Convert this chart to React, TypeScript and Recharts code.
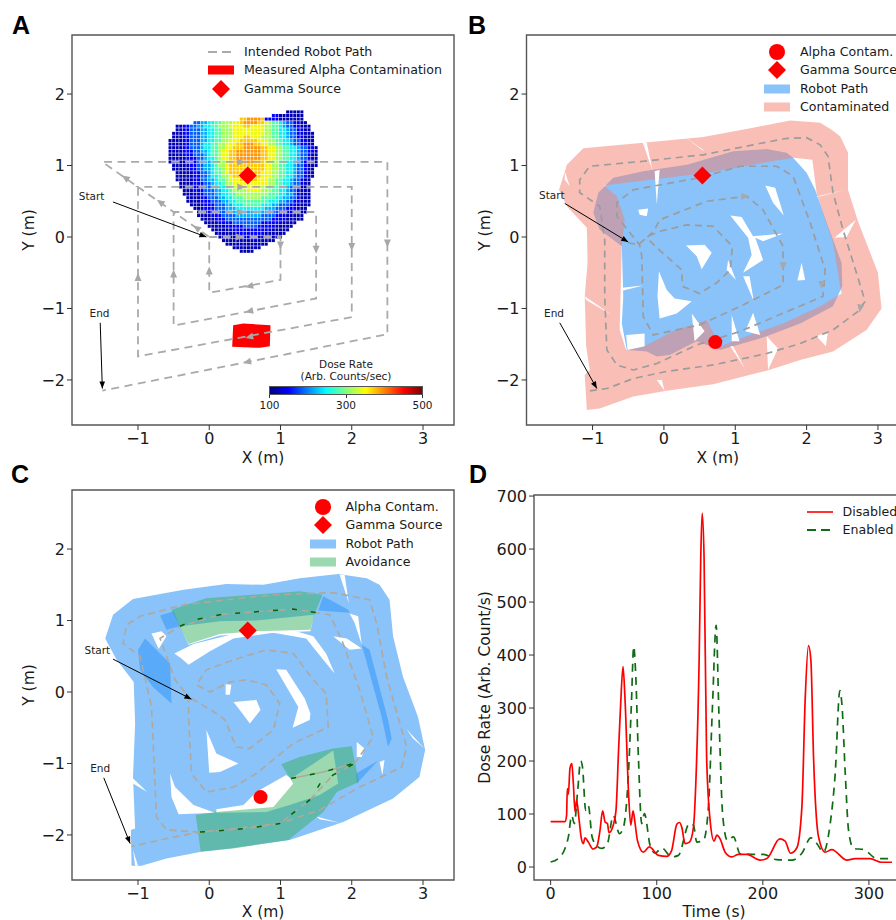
import React from "react";
import {
  ComposedChart,
  Line,
  ReferenceArea,
  ReferenceDot,
  Scatter,
  ScatterChart,
  XAxis,
  YAxis,
} from "recharts";

type Pt = number[];

const FONT = '"DejaVu Sans", sans-serif';
const xTicks = [-1, 0, 1, 2, 3];
const yTicks = [-2, -1, 0, 1, 2];
const xDomain = [-1.926, 3.435];
const yDomain = [-2.63, 2.826];
const timeTicks = [0, 100, 200, 300];
const doseTicks = [0, 100, 200, 300, 400, 500, 600, 700];

const BLUE = "#8ac2fa";
const gamma = [[0.54, 0.86]];
const alpha = [[0.72, -1.47]];

// panel A: intended path and its arrows [x, y, heading]
const intendedPath: Pt[] = [
  [0, 0], [1, 0], [1, -0.6], [0, -0.78], [0, 0], [-0.5, 0.35], [1.5, 0.35], [1.5, -0.86], [-0.5, -1.24], [-0.5, 0.35],
  [-1, 0.7], [2, 0.7], [2, -1.12], [-1, -1.67], [-1, 0.7], [-1.5, 1.05], [2.5, 1.05], [2.5, -1.36], [-1.5, -2.15],
];
const intendedArrows: Pt[] = [
  [0.45, 1.05, 0], [0.45, 0.7, 0], [0.45, 0.35, 0], [0.43, 0, 0],
  [-1.18, 0.83, 215], [-0.69, 0.49, 215], [-0.18, 0.13, 215],
  [1, -0.12, 90], [1.5, -0.18, 90], [2, -0.14, 90], [2.5, -0.09, 90],
  [0, -0.47, -90], [-0.5, -0.51, -90], [-1, -0.56, -90],
  [0.56, -0.69, 167], [0.56, -1.04, 167], [0.56, -1.4, 167], [0.53, -1.75, 167],
];
const alphaPatch: Pt[] = [[0.336, -1.234], [0.477, -1.21], [0.86, -1.234], [0.85, -1.528], [0.71, -1.551], [0.322, -1.537]];

// panel A heat map: dose level per grid cell, one row per y step
const heatX0 = -0.55;
const heatY0 = 1.75;
const heatStep = 0.05;
const heatStarts = [33, 29, 20, 7, 2, 2, 1, 1, 0, 0, 0, 0, 0, 0, 0, 1, 1, 2, 2, 2, 3, 3, 4, 4, 5, 5, 6, 7, 8, 8, 9, 10, 11, 12, 13, 14, 15, 16, 18, 20];
const heatRows = [
  "00000",
  "110000000",
  "889999811110000000",
  "22334455666778999988765543221100",
  "00112233445566677778877776655432211000",
  "00112223344556667777777776655443221100",
  "0001122233445566677777777766554432211000",
  "0001122233445566677788777666554432211000",
  "00001122233445566777888887776655443221100",
  "00001122234455667778899988776655443221100",
  "000011222344556677888999998877665544322110",
  "000011122334556778899999998877665544322110",
  "000011122234556778899999998877665544322100",
  "000001112234456778899999998877665544322100",
  "000001112233456678899999888776655443221000",
  "00000112233456678888888888776655443221000",
  "0000011223345567888888888877665544322100",
  "000001122345567888888888777665544322100",
  "000001122344566788888888777665544322100",
  "00000112233455677788888777665544322100",
  "0000111223445667777777777665544322100",
  "0000111223344566777777766555443221000",
  "000111222334456666777766655443221000",
  "000011222334455666666666555443321000",
  "00001122233445556666655554433221000",
  "00001112223344555555555444332211000",
  "0000111222334445555544433222110000",
  "00011122233344444444333222111000",
  "0001112223333333333322211110000",
  "000011122223333333222211100000",
  "00001112222222222222111100000",
  "00001111222222221111110000",
  "000001111122221111100000",
  "0000011111111111100000",
  "00000011111111000000",
  "000000011110000000",
  "000000000000000",
  "000000000000",
  "00000000",
  "0000",
];
const doseColors = ["#0000b4", "#0000ff", "#0060ff", "#00b0ff", "#10f0f0", "#50ffa8", "#a0ff58", "#f0f808", "#ffc800", "#ff9400"];

// panel B
const pinkOuter: Pt[] = [
  [-1.08, -2.42], [-0.9, -2.4], [-0.43, -2.23], [0.04, -2.15], [0.69, -2.06], [1.44, -1.87], [1.91, -1.72], [2.37, -1.6],
  [2.84, -1.3], [3.05, -1], [3, -0.5], [2.72, 0.22], [2.58, 0.66], [2.58, 1.18], [2.47, 1.41], [2.35, 1.5], [2.19, 1.6],
  [1.77, 1.63], [1.25, 1.53], [0.55, 1.4], [-0.29, 1.32], [-1.13, 1.24], [-1.36, 1.01], [-1.47, 0.66], [-1.36, 0.43],
  [-1.08, 0.13], [-1.07, -0.36], [-1.11, -0.83], [-1.09, -1.53], [-1.04, -1.86], [-1.11, -1.93], [-1.08, -2.42],
];
const pinkInner: Pt[] = [
  [-0.53, -1.58], [-0.62, -1.3], [-0.59, -0.13], [-0.55, 0.24], [-0.66, 0.57], [-0.84, 0.72], [0.6, 0.9], [1.81, 1.11],
  [2.08, 1.08], [2.14, 0.62], [2.26, 0.24], [2.37, -0.08], [2.47, -0.69], [2.49, -0.79], [2.19, -0.97], [1.67, -1.21],
  [1.16, -1.39], [0.79, -1.53], [0.6, -1.16], [0.39, -1.23], [0.13, -1.32], [-0.24, -1.51], [-0.53, -1.58],
];
const blueB: Pt[] = [
  [-0.52, -1.58], [-0.24, -1.6], [-0.1, -1.67], [0.08, -1.65], [0.46, -1.46], [0.79, -1.58], [1.44, -1.39], [1.91, -1.21],
  [2.37, -0.97], [2.5, -0.69], [2.49, -0.36], [2.3, 0.15], [2.12, 0.66], [2, 0.9], [1.81, 1.11], [1.72, 1.18], [1.44, 1.23],
  [0.97, 1.2], [0.32, 1.01], [-0.29, 0.92], [-0.71, 0.83], [-0.92, 0.62], [-0.99, 0.34], [-0.9, 0.1], [-0.59, -0.13],
  [-0.57, -0.83], [-0.59, -1.21],
];
const gapsB: Pt[][] = [
  [[-0.36, 0.38], [-0.22, 0.4], [-0.24, 0.29], [-0.34, 0.31]],
  [[1.42, 0.72], [1.56, 0.69], [1.68, 0.3], [1.53, 0.48]],
  [[0.93, 0.3], [1.09, 0.28], [1.25, 0.01], [1.67, 0.05], [1.39, -0.06], [1.28, -0.01], [1.39, -0.32], [1.11, -0.5], [1.23, -0.25], [1.18, -0.01]],
  [[0.31, -0.12], [0.57, -0.11], [0.67, -0.22], [0.53, -0.45], [0.46, -0.27]],
  [[-0.07, -0.48], [0.04, -0.74], [0.15, -0.86], [0.39, -0.9], [0.18, -1.07], [-0.06, -1.14], [-0.09, -0.83]],
  [[1.93, -0.36], [1.98, -0.6], [1.87, -0.61]],
  [[0.9, -0.32], [1.01, -0.6], [0.88, -0.46]],
  [[1.11, -0.55], [1.2, -0.55], [1.26, -0.9]],
  [[0.39, -1.07], [0.57, -1.32], [0.43, -1.46]],
  [[0.95, -1.09], [1.06, -1.46], [0.95, -1.46]],
  [[1.14, -1.32], [1.25, -1.06], [1.35, -1.37]],
  [[-0.53, -1.37], [-0.27, -1.35], [-0.27, -1.53], [-0.51, -1.58]],
  [[-0.3, 1.33], [-0.24, 1.32], [-0.16, 0.93]],
  [[-0.13, 0.92], [-0.06, 0.94], [-0.1, 0.45]],
  [[0.29, 1.4], [0.56, 1.2], [0.55, 1.22]],
  [[2.12, 0.55], [2.54, 0.66], [2.2, 0.58]],
  [[2.39, -0.01], [2.69, 0.24], [2.56, 0]],
  [[-1.11, -0.83], [-0.73, -1.09], [-1.09, -0.88]],
  [[1.44, -1.39], [1.6, -1.56], [1.46, -1.86]],
  [[2.14, -1.39], [2.3, -1.32], [2.27, -1.53]],
  [[0.93, -1.53], [1.14, -1.85], [0.97, -1.53]],
  [[-0.1, -2], [0.01, -2.15], [-0.03, -2]],
  [[-0.59, -0.71], [-0.29, -0.68], [-0.57, -0.75]],
  [[-1.39, 0.92], [-1.32, 0.71], [-1.39, 0.8]],
];
const pathB: Pt[] = [
  [-0.5, -0.08], [-0.36, -0.11], [-0.22, 0.01], [-0.06, 0.08], [0.32, 0.17], [0.69, 0.15], [0.96, -0.13], [0.93, -0.46],
  [0.74, -0.64], [0.5, -0.79], [0.26, -0.69], [0.25, -0.46], [-0.1, -0.15], [-0.24, -0.01], [-0.13, 0.1], [-0.06, 0.24],
  [0.6, 0.5], [1.16, 0.57], [1.39, 0.38], [1.67, -0.13], [1.67, -0.67], [1.07, -0.97], [0.5, -1.23], [-0.15, -1.37],
  [-0.29, -1.11], [-0.31, -0.27], [-0.34, -0.11], [-0.66, 0.29], [-0.66, 0.48], [-0.43, 0.66], [0.5, 0.83], [1.07, 0.99],
  [1.58, 0.99], [1.81, 0.85], [2.05, 0.2], [2.26, -0.46], [2.23, -0.83], [1.07, -1.32], [0.46, -1.51], [-0.1, -1.77],
  [-0.43, -1.86], [-0.66, -1.79], [-0.8, -1.58], [-0.83, -0.83], [-0.83, -0.04], [-0.9, 0.43], [-1.18, 0.62], [-1.18, 0.8],
  [-1.04, 0.99], [-0.29, 1.06], [0.55, 1.15], [1.25, 1.29], [1.72, 1.38], [2, 1.39], [2.19, 1.29], [2.3, 1.13], [2.37, 0.62],
  [2.51, 0.1], [2.72, -0.57], [2.82, -0.9], [2.72, -1.04], [2.37, -1.3], [1.91, -1.49], [1.44, -1.63], [0.69, -1.79],
  [0.04, -1.88], [-0.43, -1.98], [-0.8, -2.12], [-1.09, -2.16],
];
const arrowsB: Pt[] = [[1.14, 0.57, 0], [1.67, -0.41, 90], [2.21, -0.67, 90], [2.75, -1, 100]];

// panel C
const blueC: Pt[] = [
  [-1.09, -2.43], [-0.95, -2.43], [-0.6, -2.33], [-0.13, -2.24], [0.29, -2.19], [1.13, -2.07], [1.88, -1.82], [2.58, -1.49],
  [2.95, -1.19], [3.03, -0.81], [2.93, -0.35], [2.72, 0.21], [2.58, 0.78], [2.53, 1.29], [2.39, 1.5], [2.21, 1.59], [1.81, 1.65],
  [1.27, 1.59], [0.76, 1.5], [0.24, 1.51], [-0.36, 1.43], [-1.07, 1.3], [-1.35, 1.08], [-1.46, 0.75], [-1.3, 0.45], [-1.06, 0.14],
  [-1.04, -0.44], [-1.07, -1.19], [-1.04, -1.91], [-1.1, -1.93],
];
const gapsC: Pt[][] = [
  [[-0.49, 0.54], [-0.22, 0.67], [0.34, 0.81], [1.18, 0.86], [1.46, 0.78], [1.64, 0.54], [1.76, 0.26], [1.6, 0.45], [1.36, 0.75], [0.9, 0.83], [0.34, 0.75], [0.01, 0.57], [-0.29, 0.38], [-0.39, 0.47]],
  [[-0.41, 0.92], [0.15, 0.99], [0.66, 1], [1.47, 1.08], [1.42, 0.85], [0.66, 0.82], [0.15, 0.79], [-0.29, 0.66]],
  [[-0.81, 0.82], [-0.67, 0.85], [-0.6, 0.78], [-0.71, 0.6]],
  [[1.74, 0.78], [1.93, 0.75], [2.14, 0.61], [1.97, 0.59]],
  [[0.34, -0.14], [0.66, -0.11], [0.72, -0.25], [0.57, -0.44], [0.45, -0.28]],
  [[0.23, 0.11], [0.31, 0.1], [0.29, -0.04], [0.23, -0.04]],
  [[0.94, 0.32], [1.08, 0.31], [1.34, -0.09], [1.42, -0.3], [1.41, -0.39], [1.17, -0.5], [1.25, -0.21]],
  [[-0.04, -0.53], [0.1, -0.86], [0.41, -1], [0.15, -1.12], [0, -1.13]],
  [[-0.55, -1.14], [-0.48, -1.33], [-0.22, -1.58], [0.08, -1.69], [-0.43, -1.71], [-0.53, -1.47]],
  [[0.1, -1.64], [0.48, -1.58], [0.66, -1.4], [1.08, -1.16], [1.15, -1.21], [1.74, -0.82], [1.81, -1.28], [1.55, -1.44], [1.13, -1.58], [0.8, -1.68], [0.1, -1.69]],
  [[2.07, -0.7], [2.18, -0.79], [2.14, -0.91], [2.07, -0.91]],
  [[2.39, -0.98], [2.46, -0.95], [2.43, -1.16]],
  [[2.77, -0.52], [3.02, -0.79], [2.86, -0.65]],
  [[1.83, 1.64], [1.9, 1.64], [1.96, 1.24]],
  [[-1.09, -1.19], [-0.87, -1.4], [-1.07, -1.28]],
  [[1.5, -1.74], [1.83, -1.83], [1.55, -1.78]],
  [[-1.07, -2.21], [-1, -2.43], [-1.04, -2.43]],
  [[1.97, 1.1], [2.09, 1.06], [2.14, 0.66], [2.04, 0.97]],
];
const overlapsC: Pt[][] = [
  [[-1, 0.59], [-0.9, 0.75], [-0.55, 0.4], [-0.53, -0.16], [-0.79, 0.07], [-0.97, 0.31]],
  [[-0.69, 1.07], [-0.5, 1.13], [-0.41, 0.92], [-0.6, 0.87]],
  [[1.53, 1.14], [1.6, 1.34], [1.95, 1.15], [1.97, 1.11]],
  [[2.14, 0.66], [2.25, 0.59], [2.51, -0.39], [2.56, -0.65], [2.51, -0.77], [2.42, -0.35]],
  [[2.06, -1.14], [2.37, -0.96], [2.07, -1.28]],
];
const avoidTop: Pt[] = [[-0.53, 1.15], [-0.04, 1.31], [1.27, 1.41], [1.59, 1.36], [1.48, 1.1], [1.42, 0.87], [0.66, 0.85], [0.15, 0.81], [-0.29, 0.67]];
const avoidBottom: Pt[] = [
  [-0.19, -1.72], [0.1, -1.68], [0.9, -1.61], [1.18, -1.28], [1.01, -1.01], [1.27, -0.91], [1.74, -0.79], [2, -0.76], [2.1, -1.26],
  [1.79, -1.4], [1.6, -1.68], [1.11, -2.07], [0.34, -2.19], [-0.12, -2.23],
];
const pathC: Pt[] = [
  [-0.25, -0.09], [0.1, -0.3], [0.22, -0.39], [0.38, -0.77], [0.57, -0.79], [0.9, -0.53], [0.99, -0.16], [0.8, 0.1], [0.52, 0.17],
  [0.29, 0.14], [0.01, 0], [-0.18, 0.1], [-0.04, 0.31], [0.34, 0.45], [0.8, 0.59], [1.18, 0.54], [1.46, 0.17], [1.64, -0.02],
  [1.67, -0.49], [1.18, -0.72], [0.66, -1.14], [0.34, -1.33], [-0.04, -1.4], [-0.25, -1.14], [-0.29, -0.35], [-0.29, -0.07],
  [-0.48, 0.17], [-0.6, 0.5], [-0.69, 0.75], [-0.41, 0.92], [0.2, 1.09], [1.18, 1.16], [1.5, 1.11], [1.69, 1.08], [1.86, 0.73],
  [2.11, 0.03], [2.3, -0.63], [2.04, -1], [1.74, -1.16], [1.41, -1.51], [0.99, -1.84], [0.52, -1.91], [-0.13, -1.96], [-0.6, -1.93],
  [-0.74, -1.75], [-0.81, -0.21], [-0.97, 0.5], [-1.21, 0.68], [-1.16, 0.94], [-0.97, 1.06], [-0.36, 1.22], [0.24, 1.29], [0.9, 1.36],
  [1.74, 1.39], [2.25, 1.29], [2.35, 0.96], [2.49, 0.21], [2.77, -0.77], [2.7, -1.05], [2.11, -1.33], [1.55, -1.65], [0.99, -1.84],
  [-0.13, -1.96], [-0.5, -2.03], [-1.09, -2.16],
];
const branchC: Pt[] = [[1.15, -1.21], [1.6, -1.12], [2.02, -1]];
const avoidPathTop: Pt[] = [[-0.41, 0.92], [-0.2, 1.01], [0.2, 1.09], [1.18, 1.16], [1.5, 1.11]];
const avoidPathBottom: Pt[] = [[-0.13, -1.96], [0.52, -1.91], [0.99, -1.84], [1.41, -1.51], [1.57, -1.26], [1.74, -1.16], [2.04, -1]];

// panel D: [time, dose]
const disabled: Pt[] = [
  [0, 85.6], [13.5, 85.6], [15, 97], [15.7, 148], [16.7, 137], [18.2, 186], [20, 195], [21.4, 157], [23, 104], [24.5, 126], [26.7, 91],
  [29, 53], [30.8, 44], [32.4, 55], [35.5, 47], [40, 34], [43.4, 38], [46.5, 69], [49, 106], [51.3, 85], [53.5, 82], [55, 65], [59, 79],
  [61.6, 107], [64, 220], [66, 308], [68.2, 378], [70, 321], [73.3, 145], [75.5, 79], [77.7, 106], [79.6, 82], [81.8, 50], [87.4, 28],
  [93, 38], [101.6, 22], [109.4, 20], [114, 31], [118.9, 80.5], [121.4, 84], [123.6, 75], [126.7, 44], [130.8, 47], [134.6, 75],
  [136.8, 157], [140, 396], [141.5, 585], [142.8, 668], [144.6, 585], [147, 207], [150.3, 88], [154, 49], [156.6, 60], [159.7, 53],
  [164.5, 28], [170.8, 19], [177, 24], [185, 24], [197.5, 13], [203.8, 16], [216, 53], [221, 49], [226, 26], [232, 36], [236.8, 113],
  [240, 321], [243, 418], [245.3, 390], [247.8, 207], [252.5, 57], [258.8, 28], [265, 33], [279.3, 13], [287, 16], [301, 16], [312, 9], [321.7, 9],
];
const enabled: Pt[] = [
  [0, 9.4], [7.2, 16], [13.5, 35], [16.7, 57], [19.8, 97], [22.3, 82], [25.5, 145], [28.3, 200], [30, 189], [33, 107], [35.5, 116], [39, 57],
  [42, 44], [48, 35], [53.5, 44], [59, 97], [64.8, 63], [68.6, 75], [73.3, 176], [76, 302], [78.3, 416], [80, 371], [82.7, 208], [85.8, 82],
  [88.4, 101], [93.7, 41], [98.4, 26], [104.7, 36], [114, 19], [120.4, 22], [130.8, 82], [134.6, 79], [137.7, 47], [144, 50], [148.7, 113],
  [152.5, 302], [156, 456], [158.5, 296], [162.3, 94], [166.7, 50], [172.3, 57], [178.6, 25], [189.6, 24], [200.6, 24], [213, 14], [227.4, 13],
  [236.8, 26], [245.3, 55], [251, 44], [257, 28], [263.5, 82], [268.2, 176], [272.6, 333], [274.5, 308], [277.7, 176], [280.8, 69], [285.5, 35],
  [295, 33], [307.5, 16], [321.7, 16],
];

const toPts = (list: Pt[]) => list.map(([x, y, angle]) => ({ x, y, angle }));
const heatCells = heatRows.flatMap((row, j) =>
  row.split("").map((level, i) => ({
    x: heatX0 + (heatStarts[j] + i) * heatStep,
    y: heatY0 - j * heatStep,
    color: doseColors[Number(level)],
  })),
);

const noMark = () => <g />;
const heatMark = (p: any) => <rect x={p.cx - 1.5} y={p.cy - 1.5} width={3} height={3} fill={p.payload.color} />;
const diamondMark = (p: any) => (
  <polygon points={`${p.cx - 9},${p.cy} ${p.cx},${p.cy - 9} ${p.cx + 9},${p.cy} ${p.cx},${p.cy + 9}`} fill="#ff0000" />
);
const circleMark = (p: any) => <circle cx={p.cx} cy={p.cy} r={7} fill="#ff0000" />;
const grayHead = (p: any) => (
  <polygon
    points="4,0 -4,-3.5 -4,3.5"
    fill="#a8a8a8"
    transform={`translate(${p.cx},${p.cy}) rotate(${p.payload.angle})`}
  />
);
const blackHead = (p: any) => (
  <polygon
    points="0,0 -7,-2.8 -7,2.8"
    fill="#000"
    transform={`translate(${p.cx},${p.cy}) rotate(${p.payload.angle})`}
  />
);

const area = (key: string, list: Pt[], fill: string, fillOpacity = 1) => (
  <Scatter
    key={key}
    data={toPts(list)}
    shape={noMark}
    line={{ fill, fillOpacity, stroke: "none" }}
    lineJointType="linearClosed"
    isAnimationActive={false}
  />
);
const polyline = (key: string, list: Pt[], stroke: string, width: number, dash?: string) => (
  <Scatter
    key={key}
    data={toPts(list)}
    shape={noMark}
    line={{ stroke, strokeWidth: width, strokeDasharray: dash, fill: "none" }}
    isAnimationActive={false}
  />
);
const marks = (key: string, list: Pt[], shape: any) => (
  <Scatter key={key} data={toPts(list)} shape={shape} isAnimationActive={false} />
);
const note = (key: string, text: string, x: number, y: number) => (
  <ReferenceDot
    key={key}
    x={x}
    y={y}
    r={0}
    stroke="none"
    label={{ value: text, position: "center", fontSize: 10.5, fill: "#222", fontFamily: FONT }}
  />
);
const pointer = (key: string, label: string, tx: number, ty: number, from: Pt, to: Pt, angle: number) => [
  note(`${key}-t`, label, tx, ty),
  polyline(`${key}-l`, [from, to], "#000", 1),
  marks(`${key}-h`, [[to[0], to[1], angle]], blackHead),
];

const minus = (v: number) => String(v).replace("-", "\u2212");
const tickStyle = { fontSize: 16, fill: "#1a1a1a", fontFamily: FONT };
const labelStyle = { fontSize: 15.5, fill: "#1a1a1a", fontFamily: FONT };

const axes = (
  xLabel: string,
  yLabel: string,
  xd: number[],
  yd: number[],
  xt: number[],
  yt: number[],
  yw: number,
  xLabelOffset = 7,
  xLabelDx = 0,
) => [
  <XAxis
    key="x"
    type="number"
    dataKey="x"
    domain={xd}
    ticks={xt}
    allowDataOverflow
    height={45}
    interval={0}
    tickSize={5}
    tickMargin={3}
    tickFormatter={minus}
    tick={tickStyle}
    stroke="#333"
    axisLine={false}
    label={{ value: xLabel, position: "insideBottom", offset: xLabelOffset, dx: xLabelDx, ...labelStyle }}
  />,
  <YAxis
    key="y"
    type="number"
    dataKey="y"
    domain={yd}
    ticks={yt}
    allowDataOverflow
    width={yw}
    interval={0}
    tickSize={5}
    tickMargin={2}
    tickFormatter={minus}
    tick={tickStyle}
    stroke="#333"
    axisLine={false}
    label={{ value: yLabel, angle: -90, position: "insideLeft", offset: 28, ...labelStyle, style: { textAnchor: "middle" } }}
  />,
];
const frame = (xd: number[], yd: number[]) => (
  <ReferenceArea key="frame" x1={xd[0]} x2={xd[1]} y1={yd[0]} y2={yd[1]} fill="none" fillOpacity={0} stroke="#555" strokeWidth={1.4} ifOverflow="visible" />
);

function Swatch({ kind, color }: { kind: string; color: string }) {
  return (
    <svg width={28} height={18} style={{ display: "block" }}>
      {kind === "patch" && <rect x={1} y={4.5} width={26} height={9} fill={color} />}
      {kind === "dash" && <line x1={1} x2={27} y1={9} y2={9} stroke={color} strokeWidth={1.8} strokeDasharray="9 5" />}
      {kind === "line" && <line x1={1} x2={27} y1={9} y2={9} stroke={color} strokeWidth={1.6} />}
      {kind === "diamond" && <polygon points="5,9 14,0 23,9 14,18" fill={color} />}
      {kind === "circle" && <circle cx={14} cy={9} r={8} fill={color} />}
    </svg>
  );
}

function Key({ x, y, kind, color, label, textX }: { x: number; y: number; kind: string; color: string; label: string; textX: number }) {
  return (
    <>
      <div style={{ position: "absolute", left: x, top: y - 9 }}>
        <Swatch kind={kind} color={color} />
      </div>
      <div style={{ position: "absolute", left: textX, top: y - 9, lineHeight: "18px", fontSize: 12.6, fontFamily: FONT, color: "#1a1a1a", whiteSpace: "nowrap" }}>
        {label}
      </div>
    </>
  );
}

const Letter = ({ x, y, text }: { x: number; y: number; text: string }) => (
  <div style={{ position: "absolute", left: x, top: y, fontSize: 25, lineHeight: "28px", fontWeight: 700, fontFamily: '"Liberation Sans", sans-serif', color: "#000" }}>
    {text}
  </div>
);

const Small = ({ x, y, text, w = 120 }: { x: number; y: number; text: string; w?: number }) => (
  <div style={{ position: "absolute", left: x - w / 2, width: w, top: y - 7, lineHeight: "14px", textAlign: "center", fontSize: 10.5, fontFamily: FONT, color: "#1a1a1a" }}>
    {text}
  </div>
);

const CHART_W = 470;
const CHART_H = 470;
const margin = { top: 35, right: 16, bottom: 0, left: 0 };
const marginRight = { top: 35, right: 17, bottom: 0, left: 0 };

export default function App() {
  return (
    <div style={{ position: "fixed", left: 0, top: 0, width: 896, height: 920, overflow: "hidden", background: "#fff" }}>
      <div style={{ position: "absolute", left: 0, top: 0 }}>
        <ScatterChart width={CHART_W} height={CHART_H} margin={margin}>
          {axes("X (m)", "Y (m)", xDomain, yDomain, xTicks, yTicks, 72)}
          <Scatter data={heatCells} shape={heatMark} isAnimationActive={false} />
          {area("alpha", alphaPatch, "#ff0000")}
          {polyline("path", intendedPath, "#aaaaaa", 1.8, "8 5.5")}
          {marks("arrows", intendedArrows, grayHead)}
          {marks("gamma", gamma, diamondMark)}
          {pointer("start", "Start", -1.65, 0.57, [-1.35, 0.49], [-0.04, 0], 20)}
          {pointer("end", "End", -1.54, -1.06, [-1.53, -1.2], [-1.5, -2.12], 88.6)}
          {frame(xDomain, yDomain)}
        </ScatterChart>
      </div>

      <div style={{ position: "absolute", left: 456, top: 0 }}>
        <ScatterChart width={CHART_W} height={CHART_H} margin={marginRight}>
          {axes("X (m)", "Y (m)", xDomain, yDomain, xTicks, yTicks, 70.5)}
          {area("blue", blueB, BLUE)}
          {area("pink", [...pinkOuter, ...pinkInner], "#f47f70", 0.5)}
          {gapsB.map((g, i) => area(`gap-${i}`, g, "#ffffff"))}
          {polyline("path", pathB, "#9c9c9c", 1.7, "7 5")}
          {marks("arrows", arrowsB, grayHead)}
          {marks("gamma", gamma, diamondMark)}
          {marks("alpha", alpha, circleMark)}
          {pointer("start", "Start", -1.57, 0.58, [-1.39, 0.47], [-0.5, -0.07], 31)}
          {pointer("end", "End", -1.54, -1.07, [-1.46, -1.2], [-0.94, -2.12], 61)}
          {frame(xDomain, yDomain)}
        </ScatterChart>
      </div>

      <div style={{ position: "absolute", left: 0, top: 455 }}>
        <ScatterChart width={CHART_W} height={CHART_H} margin={margin}>
          {axes("X (m)", "Y (m)", xDomain, yDomain, xTicks, yTicks, 72, 8.5)}
          {area("blue", blueC, BLUE)}
          {overlapsC.map((g, i) => area(`over-${i}`, g, "#5aaafa"))}
          {gapsC.map((g, i) => area(`gap-${i}`, g, "#ffffff"))}
          {area("avoid-top", avoidTop, "#31b05a", 0.48)}
          {area("avoid-bottom", avoidBottom, "#31b05a", 0.48)}
          {polyline("path", pathC, "#b0a89c", 1.6, "7 4.5")}
          {polyline("branch", branchC, "#b0a89c", 1.6)}
          {polyline("avoid-path-top", avoidPathTop, "#006400", 1.5, "5 14")}
          {polyline("avoid-path-bottom", avoidPathBottom, "#006400", 1.5, "5 14")}
          {polyline("avoid-branch", branchC, "#006400", 1.5, "5 14")}
          {marks("gamma", gamma, diamondMark)}
          {marks("alpha", alpha, circleMark)}
          {pointer("start", "Start", -1.57, 0.59, [-1.35, 0.46], [-0.25, -0.1], 27)}
          {pointer("end", "End", -1.53, -1.06, [-1.48, -1.2], [-1.11, -2.12], 68.5)}
          {frame(xDomain, yDomain)}
        </ScatterChart>
      </div>

      <div style={{ position: "absolute", left: 456, top: 455 }}>
        <ComposedChart width={CHART_W} height={CHART_H} margin={{ top: 40, right: 14, bottom: 0, left: 0 }}>
          {axes("Time (s)", "Dose Rate (Arb. Count/s)", [-15.7, 340.6], [-24.5, 702], timeTicks, doseTicks, 78, 8.5, -9)}
          <Line data={toPts(enabled)} dataKey="y" stroke="#0f6b14" strokeWidth={1.7} strokeDasharray="8 6" dot={false} type="monotone" isAnimationActive={false} />
          <Line data={toPts(disabled)} dataKey="y" stroke="#ff0000" strokeWidth={1.7} dot={false} type="monotone" isAnimationActive={false} />
          {frame([-15.7, 340.6], [-24.5, 702])}
        </ComposedChart>
      </div>

      <Key x={207} y={52} kind="dash" color="#aaaaaa" label="Intended Robot Path" textX={244} />
      <Key x={207} y={70} kind="patch" color="#ff0000" label="Measured Alpha Contamination" textX={244} />
      <Key x={207} y={88.5} kind="diamond" color="#ff0000" label="Gamma Source" textX={244} />

      <Small x={346} y={364} text="Dose Rate" />
      <Small x={346} y={376} text="(Arb. Counts/sec)" />
      <div style={{ position: "absolute", left: 269, top: 385.5, width: 154, height: 9, border: "0.5px solid #555", boxSizing: "border-box", background: "linear-gradient(to right,#00007f,#0000ff 12%,#00ffff 37%,#80ff80 50%,#ffff00 63%,#ff0000 88%,#7f0000)" }} />
      {[269.5, 346, 422.5].map((x) => (
        <div key={x} style={{ position: "absolute", left: x - 0.5, top: 394.5, width: 1, height: 3, background: "#333" }} />
      ))}
      <Small x={269.5} y={405} text="100" w={40} />
      <Small x={346} y={405} text="300" w={40} />
      <Small x={422.5} y={405} text="500" w={40} />

      <Key x={763} y={52} kind="circle" color="#ff0000" label="Alpha Contam." textX={800} />
      <Key x={763} y={70} kind="diamond" color="#ff0000" label="Gamma Source" textX={800} />
      <Key x={763} y={88.5} kind="patch" color={BLUE} label="Robot Path" textX={800} />
      <Key x={763} y={107} kind="patch" color="#f9bfb7" label="Contaminated" textX={800} />

      <Key x={309} y={507} kind="circle" color="#ff0000" label="Alpha Contam." textX={345.5} />
      <Key x={309} y={525} kind="diamond" color="#ff0000" label="Gamma Source" textX={345.5} />
      <Key x={309} y={543.5} kind="patch" color={BLUE} label="Robot Path" textX={345.5} />
      <Key x={309} y={562} kind="patch" color="#9cd9b0" label="Avoidance" textX={345.5} />

      <Key x={806} y={511.5} kind="line" color="#ff0000" label="Disabled" textX={842.5} />
      <Key x={806} y={530} kind="dash" color="#0f6b14" label="Enabled" textX={842.5} />

      <Letter x={12} y={11} text="A" />
      <Letter x={468} y={11} text="B" />
      <Letter x={11} y={460} text="C" />
      <Letter x={469} y={460} text="D" />
    </div>
  );
}
